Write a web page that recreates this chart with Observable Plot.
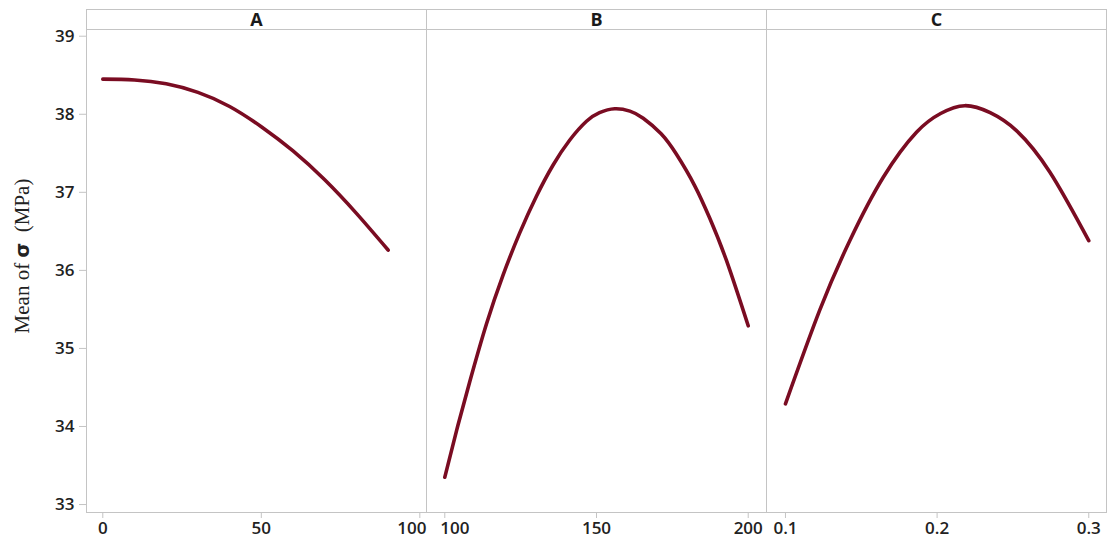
<!DOCTYPE html>
<html>
<head>
<meta charset="utf-8">
<script src="https://cdn.jsdelivr.net/npm/d3@7"></script>
<script src="https://cdn.jsdelivr.net/npm/@observablehq/plot@0.6"></script>
<style>
  html, body { margin: 0; padding: 0; background: #fff; }
  #chart { position: relative; width: 1110px; height: 541px; background: #fff; overflow: hidden; }
  #chart svg { position: absolute; top: 0; overflow: visible; }
  .hdr { position: absolute; top: 9px; height: 20px; box-sizing: border-box;
         border-top: 1px solid #c4c4c4; border-left: 1px solid #c4c4c4; border-right: 1px solid #c4c4c4;
         font-family: "Open Sans", sans-serif; font-weight: 700; font-size: 18px; color: #1a1a1a;
         text-align: center; line-height: 19px; }
</style>
</head>
<body>
<div id="chart"></div>
<script>
// ---- data ----
const panels = ["A", "B", "C"];

const xA = [0, 10, 20, 30, 40, 50, 60, 70, 80, 90];
const yA = [38.45, 38.44, 38.39, 38.28, 38.10, 37.84, 37.53, 37.16, 36.73, 36.26];

const xB = [100, 103.9, 108.2, 113.7, 119.2, 124.7, 130.2, 135.7, 141.2, 146.7, 151, 156, 161, 165.4, 171.3, 176.3, 182.3, 187.3, 192.8, 200];
const yB = [33.35, 33.95, 34.57, 35.31, 35.94, 36.48, 36.95, 37.35, 37.67, 37.91, 38.02, 38.07, 38.04, 37.95, 37.75, 37.49, 37.09, 36.67, 36.13, 35.29];

const xC = [0.1, 0.1226, 0.1424, 0.1644, 0.1864, 0.2023, 0.2182, 0.235, 0.2523, 0.2743, 0.3];
const yC = [34.29, 35.49, 36.38, 37.19, 37.77, 38.01, 38.11, 38.02, 37.79, 37.26, 36.38];

const ticksA = [0, 50, 100];
const ticksB = [100, 150, 200];
const ticksC = [0.1, 0.2, 0.3];
const ticksY = [33, 34, 35, 36, 37, 38, 39];

// ---- layout ----
const H = 541, MT = 29, MB = 29;
const yDomain = [32.898, 39.086];
const lineColor = "#7a0c22";
const gridColor = "#c4c4c4";

// per-tick label nudges (the two adjacent "100" labels are pushed apart, as in the reference)
const specs = [
  {name: panels[0], xs: xA, ys: yA, ticks: ticksA, nudge: [0, 0, -8], domain: [-5.14, 102.1], left: 0, width: 426, ml: 86, mr: 0, yaxis: true, fmt: d3.format("d")},
  {name: panels[1], xs: xB, ys: yB, ticks: ticksB, nudge: [10, 0, 0], domain: [93.97, 206.03], left: 426, width: 340, ml: 0, mr: 0, yaxis: false, fmt: d3.format("d")},
  {name: panels[2], xs: xC, ys: yC, ticks: ticksC, nudge: [0, 0, 0], domain: [0.0875, 0.3117], left: 766, width: 344, ml: 0, mr: 4, yaxis: false, fmt: d3.format(".1f")}
];

const chart = document.getElementById("chart");

for (const s of specs) {
  const data = s.xs.map((x, i) => ({x, y: s.ys[i]}));
  const marks = [
    Plot.frame({stroke: gridColor, strokeWidth: 1}),
    Plot.axisX(s.ticks, {tickSize: 6, stroke: gridColor, text: null, label: null})
  ];
  s.ticks.forEach((t, i) => {
    marks.push(Plot.axisX([t], {tickSize: 0, tickPadding: 9, tickFormat: s.fmt, dx: s.nudge[i],
      fill: "#222", fontSize: 17, fontWeight: 600, label: null}));
  });
  marks.push(Plot.line(data, {x: "x", y: "y", stroke: lineColor, strokeWidth: 3.6, curve: "natural",
      strokeLinecap: "round", strokeLinejoin: "round"}));
  if (s.yaxis) {
    marks.push(Plot.axisY(ticksY, {tickSize: 7, tickPadding: 5, stroke: gridColor, tickFormat: d3.format("d"),
      fill: "#222", fontSize: 17, fontWeight: 600, label: null}));
  }
  const p = Plot.plot({
    width: s.width, height: H,
    marginLeft: s.ml, marginRight: s.mr, marginTop: MT, marginBottom: MB,
    style: {fontFamily: "'Open Sans', sans-serif", background: "transparent", overflow: "visible"},
    x: {domain: s.domain, axis: null},
    y: {domain: yDomain, axis: null},
    marks
  });
  p.style.left = s.left + "px";
  chart.appendChild(p);

  if (s.yaxis) {
    const svg = d3.select(p);
    const t = svg.append("text")
      .attr("transform", "translate(29,256) rotate(-90)")
      .attr("text-anchor", "middle")
      .attr("font-family", "'Liberation Serif', 'Times New Roman', serif")
      .attr("font-size", 21)
      .attr("fill", "#222")
      .style("white-space", "pre");
    t.append("tspan").text("Mean of ");
    t.append("tspan").attr("font-weight", "bold").attr("font-family", "'DejaVu Sans', sans-serif").attr("font-size", 19).text("σ");
    t.append("tspan").text("  (MPa)");
  }

  const hdr = document.createElement("div");
  hdr.className = "hdr";
  hdr.style.left = (s.left + s.ml) + "px";
  hdr.style.width = (s.width - s.ml - s.mr + 1) + "px";
  hdr.textContent = s.name;
  chart.appendChild(hdr);
}
</script>
</body>
</html>
